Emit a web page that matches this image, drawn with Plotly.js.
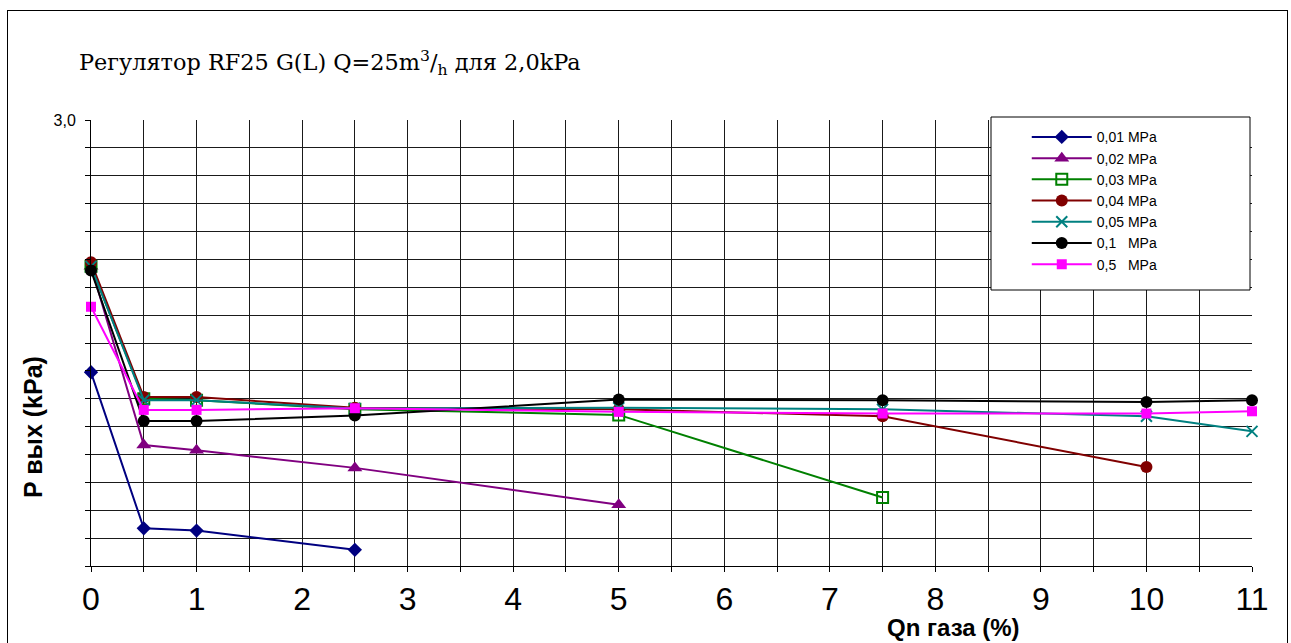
<!DOCTYPE html>
<html>
<head>
<meta charset="utf-8">
<script src="https://cdn.plot.ly/plotly-3.0.1.min.js"></script>
<style>
html,body{margin:0;padding:0;background:#fff;}
#frame{position:absolute;left:7px;top:10px;width:1281px;height:640px;border:1px solid #000;box-sizing:border-box;}
#chart{position:absolute;left:0;top:0;width:1291px;height:643px;}
</style>
</head>
<body>
<div id="frame"></div>
<div id="chart"></div>
<script>
const seriesNames = ["0,01 MPa","0,02 MPa","0,03 MPa","0,04 MPa","0,05 MPa","0,1\u00a0\u00a0\u00a0MPa","0,5\u00a0\u00a0\u00a0MPa"];
const x001 = [0,0.5,1,2.5];
const y001 = [2.095,1.535,1.527,1.458];
const x002 = [0,0.5,1,2.5,5];
const y002 = [2.475,1.834,1.815,1.752,1.62];
const x003 = [0,0.5,1,2.5,5,7.5];
const y003 = [2.475,2.0,1.995,1.962,1.942,1.646];
const x004 = [0,0.5,1,2.5,5,7.5,10];
const y004 = [2.49,2.006,2.006,1.968,1.962,1.937,1.755];
const x005 = [0,0.5,1,2.5,5,7.5,10,11];
const y005 = [2.475,1.995,1.995,1.965,1.968,1.962,1.937,1.883];
const x01 = [0,0.5,1,2.5,5,7.5,10,11];
const y01 = [2.46,1.92,1.92,1.94,1.997,1.995,1.988,1.995];
const x05 = [0,0.5,1,2.5,5,7.5,10,11];
const y05 = [2.33,1.96,1.96,1.966,1.953,1.947,1.947,1.955];

const xTickVals = [0,0.5,1,1.5,2,2.5,3,3.5,4,4.5,5,5.5,6,6.5,7,7.5,8,8.5,9,9.5,10,10.5,11];
const xTickText = xTickVals.map(v => Number.isInteger(v) ? String(v) : "");
const yTickVals = [1.4,1.5,1.6,1.7,1.8,1.9,2.0,2.1,2.2,2.3,2.4,2.5,2.6,2.7,2.8,2.9,3.0];
const yTickText = yTickVals.map(v => v === 3.0 ? "3,0" : "");

const colors = ["#000080","#800080","#008000","#800000","#008080","#000000","#FF00FF"];
const symbols = ["diamond","triangle-up","square-open","circle","x-thin-open","circle","square"];
const sizes = [11,13,11,12,11,12,10];
const xs = [x001,x002,x003,x004,x005,x01,x05];
const ys = [y001,y002,y003,y004,y005,y01,y05];

const traces = seriesNames.map((n,i)=>({
  x: xs[i], y: ys[i], name: n, type:"scatter", mode:"lines+markers",
  line:{color:colors[i], width:2},
  marker:{symbol:symbols[i], size:sizes[i], color:colors[i],
          line:{color:colors[i], width: (symbols[i]==="square-open"||symbols[i]==="x-thin-open") ? 2 : 0}},
  cliponaxis:false
}));

const layout = {
  width:1291, height:643,
  margin:{l:91, r:39, t:120, b:77},
  paper_bgcolor:"rgba(0,0,0,0)",
  plot_bgcolor:"#fff",
  showlegend:true,
  font:{family:"Liberation Sans, Arial, sans-serif", color:"#000"},
  xaxis:{
    range:[0,11], tickvals:xTickVals, ticktext:xTickText,
    showgrid:true, gridcolor:"#1a1a1a", gridwidth:1,
    ticks:"outside", ticklen:5, tickcolor:"#000",
    showline:true, linecolor:"#000", linewidth:1, mirror:false,
    zeroline:false, tickfont:{size:32, family:"Liberation Sans, Arial"}
  },
  yaxis:{
    range:[1.4,3.0], tickvals:yTickVals, ticktext:yTickText,
    showgrid:true, gridcolor:"#1a1a1a", gridwidth:1,
    ticks:"outside", ticklen:5, tickcolor:"#000",
    showline:true, linecolor:"#000", linewidth:1,
    zeroline:false, tickfont:{size:16, family:"Liberation Sans, Arial"},
    ticklabelstandoff:6
  },
  legend:{
    x:0.806, y:0.997, xanchor:"left", yanchor:"top",
    bgcolor:"rgba(0,0,0,0)", borderwidth:0,
    font:{size:14, family:"Liberation Sans, Arial"},
    tracegroupgap:0, itemwidth:60
  },
  shapes:[{
    type:"rect", xref:"paper", yref:"paper", layer:"above",
    x0:(991-91)/1161, x1:(1250-91)/1161, y0:(566-290)/446, y1:(566-117)/446,
    fillcolor:"#fff", line:{color:"#000", width:1}
  }],
  annotations:[
    {text:"Регулятор RF25 G(L) Q=25m<sup>3</sup>/<sub>h</sub> для 2,0kPa", xref:"paper", yref:"paper",
     x:(77-91)/1161, y:(566-62)/446, xanchor:"left", yanchor:"middle", showarrow:false,
     font:{family:"DejaVu Serif, serif", size:22.4}},
    {text:"<b>P вых (kPa)</b>", xref:"paper", yref:"paper", textangle:-90,
     x:(33-91)/1161, y:(566-427)/446, xanchor:"center", yanchor:"middle", showarrow:false,
     font:{size:25, family:"Liberation Sans, Arial"}},
    {text:"<b>Qn газа (%)</b>", xref:"paper", yref:"paper",
     x:(953-91)/1161, y:-(627-566)/446, xanchor:"center", yanchor:"middle", showarrow:false,
     font:{size:24, family:"Liberation Sans, Arial"}}
  ]
};
Plotly.newPlot("chart", traces, layout, {displayModeBar:false, staticPlot:true});
</script>
</body>
</html>
